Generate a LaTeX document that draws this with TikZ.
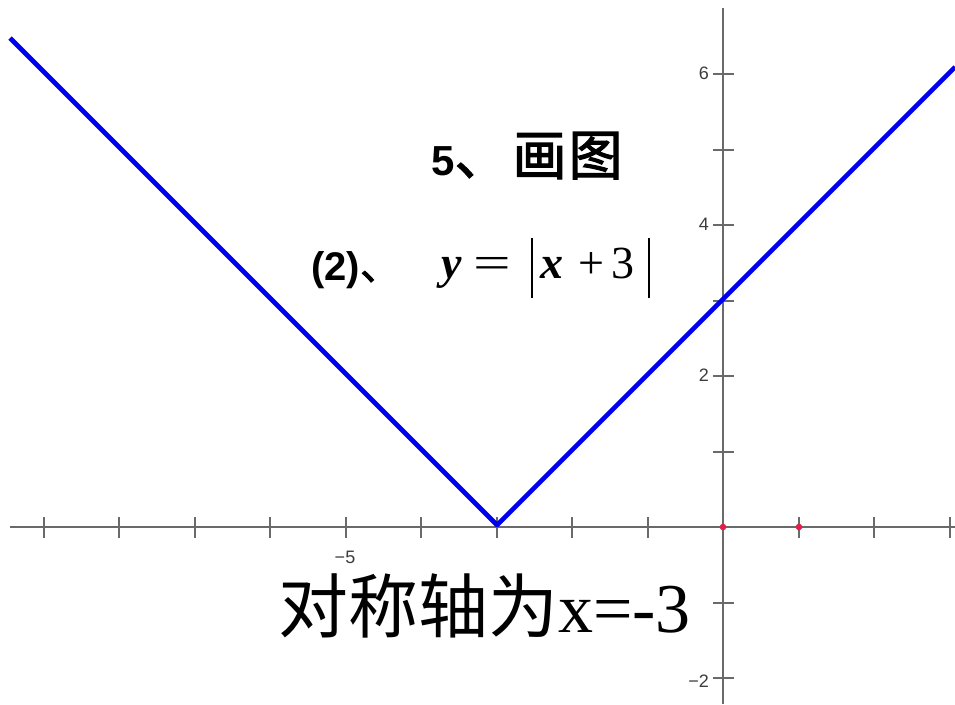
\documentclass[tikz,border=0pt]{standalone}
\usepackage{fontspec}
\setmainfont{Liberation Serif}
\newfontfamily\arial{Liberation Sans}
\newfontfamily\cjk{Noto Sans CJK SC}
\newfontfamily\cjkb{Noto Sans CJK SC}[FakeBold=2]
\newcommand{\fs}[1]{\fontsize{#1}{#1}\selectfont}
\definecolor{axisgray}{HTML}{6A6A6A}
\definecolor{labgray}{HTML}{3C3C3C}
\definecolor{graphblue}{HTML}{0000F0}
\definecolor{markred}{HTML}{E0204A}
\begin{document}
\begin{tikzpicture}[x=1pt,y=-1pt,
  axis/.style={draw=axisgray,line width=1.6pt},
  tickmark/.style={draw=axisgray,line width=1.6pt},
  graph/.style={draw=graphblue,line width=4.6pt,line join=round},
  lab/.style={text=labgray,font=\arial\fs{18},inner sep=0pt},
  title/.style={inner sep=0pt,text=black}]
\useasboundingbox[fill=white] (0,0) rectangle (955,704);
% axes
\coordinate (xl) at (10,527);
\coordinate (xr) at (955,527);
\coordinate (yt) at (723,8);
\coordinate (yb) at (723,704);
\draw[axis] (xl) -- (xr);
\draw[axis] (yt) -- (yb);
\foreach \k in {-9,-8,-7,-6,-5,-4,-3,-2,-1,1,2,3}
  \draw[tickmark] ({round(723+75.5*\k)},517) -- ++(0,21);
\foreach \k in {-2,-1,1,2,3,4,5,6}
  \draw[tickmark] (713,{round(527-75.5*\k)}) -- ++(21,0);
% red marks
\fill[markred] (723,527) circle (3.3);
\fill[markred] (799,527) circle (3.3);
% axis labels
\node[lab,anchor=east] (l6) at (709,73) {6};
\node[lab,anchor=east] (l4) at (709,224) {4};
\node[lab,anchor=east] (l2) at (709,375) {2};
\node[lab,anchor=east] (lm2) at (709,681) {−2};
\node[lab] (lm5) at (345,557) {−5};
% graph
\coordinate (L) at (10,38);
\coordinate (V) at (497,525);
\coordinate (R) at (955,67);
\draw[graph] (L) -- (V) -- (R);
% titles
\node[title,anchor=base west] (t1) at (431,175)
  {{\arial\bfseries\fs{42}5}{\cjkb\fs{54}、\hspace{4pt}画\hspace{2pt}图}};
\node[title,anchor=base west] (t2) at (311,280)
  {{\arial\bfseries\fs{40}(2)}{\cjkb\fs{40}、}};
\node[title,anchor=base west] (t3) at (441,278)
  {\fs{46}\makebox[32pt][l]{\bfseries\itshape y}%
   \makebox[58pt][l]{\scalebox{1.45}[1]{=}}%
   \makebox[9pt][l]{\raisebox{-20pt}{\rule{1.6pt}{60pt}}}%
   \makebox[38pt][l]{\bfseries\itshape x}%
   \makebox[33pt][l]{+}%
   \makebox[37pt][l]{3}%
   \raisebox{-20pt}{\rule{1.6pt}{60pt}}};
\node[title,anchor=base west] (t4) at (278,632)
  {{\cjk\fs{70}对称轴为}{\fs{70}x=-3}};
\end{tikzpicture}
\end{document}
